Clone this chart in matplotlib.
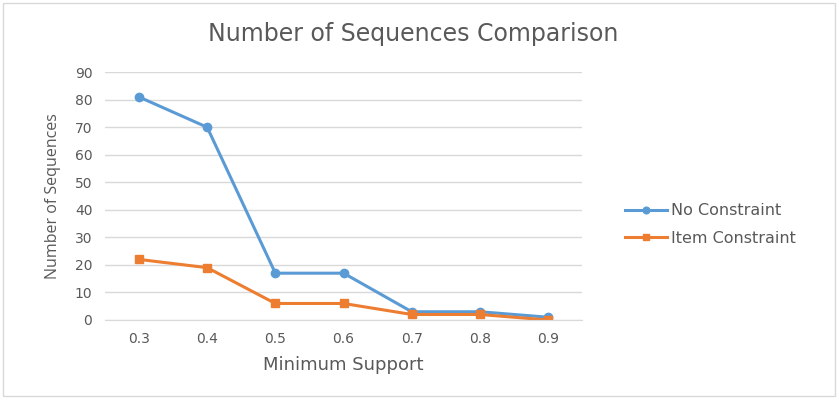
import matplotlib.pyplot as plt
from matplotlib.patches import Rectangle

# data
support = ['0.3', '0.4', '0.5', '0.6', '0.7', '0.8', '0.9']
no_constraint = [81, 70, 17, 17, 3, 3, 1]
item_constraint = [22, 19, 6, 6, 2, 2, 0]

plt.rcParams['font.family'] = ['DejaVu Sans']
grey = '#595959'

fig = plt.figure(figsize=(8.39, 4.01), dpi=100)
fig.patches.append(Rectangle((0.004, 0.012), 0.991, 0.98, transform=fig.transFigure,
                             fill=False, edgecolor='#d9d9d9', linewidth=1))
ax = fig.add_axes([0.125, 0.202, 0.569, 0.618])

x = range(len(support))
ax.plot(x, no_constraint, color='#5b9bd5', linewidth=2.2, marker='o', markersize=6,
        label='No Constraint')
ax.plot(x, item_constraint, color='#ed7d31', linewidth=2.2, marker='s', markersize=6,
        label='Item Constraint')

ax.set_xlim(-0.5, len(support) - 0.5)
ax.set_ylim(0, 90)
ax.set_yticks(range(0, 91, 10))
ax.set_xticks(list(x))
ax.set_xticklabels(support)
ax.grid(axis='y', color='#d9d9d9', linewidth=1)
ax.set_axisbelow(True)
for s in ['top', 'right', 'left']:
    ax.spines[s].set_visible(False)
ax.spines['bottom'].set_color('#d9d9d9')
ax.tick_params(length=0, colors=grey, labelsize=10, pad=9)

ax.set_xlabel('Minimum Support', color=grey, fontsize=13, labelpad=7)
ax.set_ylabel('Number of Sequences', color=grey, fontsize=11.5, labelpad=10,
              family='Open Sans')
fig.text(0.492, 0.915, 'Number of Sequences Comparison', color=grey, fontsize=17,
         ha='center', va='center')

fig.legend(loc='center left', bbox_to_anchor=(0.728, 0.44), frameon=False,
           labelcolor=grey, fontsize=11.5, handlelength=2.6, handletextpad=0.3,
           labelspacing=0.8, markerscale=0.8)

fig.savefig('out.png', dpi=100)
